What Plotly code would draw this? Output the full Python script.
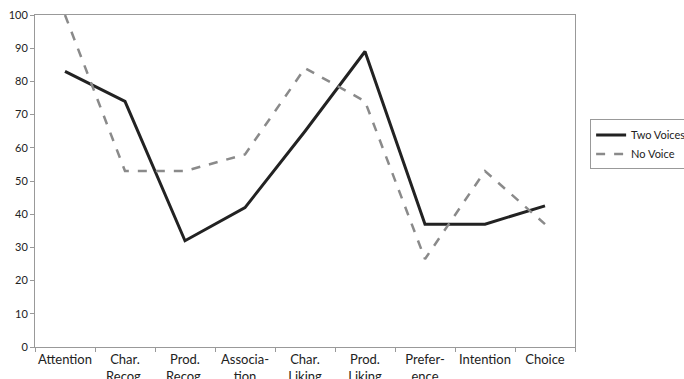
import plotly.graph_objects as go

categories = ["Attention", "Char.<br>Recog.", "Prod.<br>Recog.", "Associa-<br>tion",
              "Char.<br>Liking", "Prod.<br>Liking", "Prefer-<br>ence", "Intention", "Choice"]
two_voices = [83, 74, 32, 42, 65, 89, 37, 37, 42.5]
no_voice = [100, 53, 53, 58, 84, 74, 26.5, 53, 37]
y_ticks = [0, 10, 20, 30, 40, 50, 60, 70, 80, 90, 100]

fig = go.Figure()
fig.add_trace(go.Scatter(x=categories, y=two_voices, mode="lines", name="Two Voices",
                         line=dict(color="#222222", width=3)))
fig.add_trace(go.Scatter(x=categories, y=no_voice, mode="lines", name="No Voice",
                         line=dict(color="#8a8a8a", width=2.5, dash="dash")))

fig.update_layout(
    width=684, height=379,
    margin=dict(l=35, r=109, t=15, b=32, autoexpand=False),
    paper_bgcolor="white", plot_bgcolor="white",
    font=dict(family="Lato, 'Open Sans', sans-serif", color="#222222", size=12),
    showlegend=True,
    legend=dict(x=1.028, y=0.61, xanchor="left", yanchor="middle",
                bordercolor="#999999", borderwidth=1, font=dict(size=11),
                tracegroupgap=0, itemwidth=30),
    xaxis=dict(type="category", range=[-0.5, 8.5], showgrid=False, showline=True,
               linecolor="#999999", mirror=True, ticks="outside", tickson="boundaries",
               ticklen=4, tickcolor="#999999", tickfont=dict(size=13), tickangle=0,
               automargin=False),
    yaxis=dict(range=[0, 100], tickvals=y_ticks, showgrid=False, showline=True,
               linecolor="#999999", mirror=True, ticks="outside", ticklen=4,
               tickcolor="#999999", tickfont=dict(size=11), zeroline=False,
               automargin=False),
)

fig.write_html("out.html", post_script="document.body.style.margin='0';",
               config={"displayModeBar": False})
